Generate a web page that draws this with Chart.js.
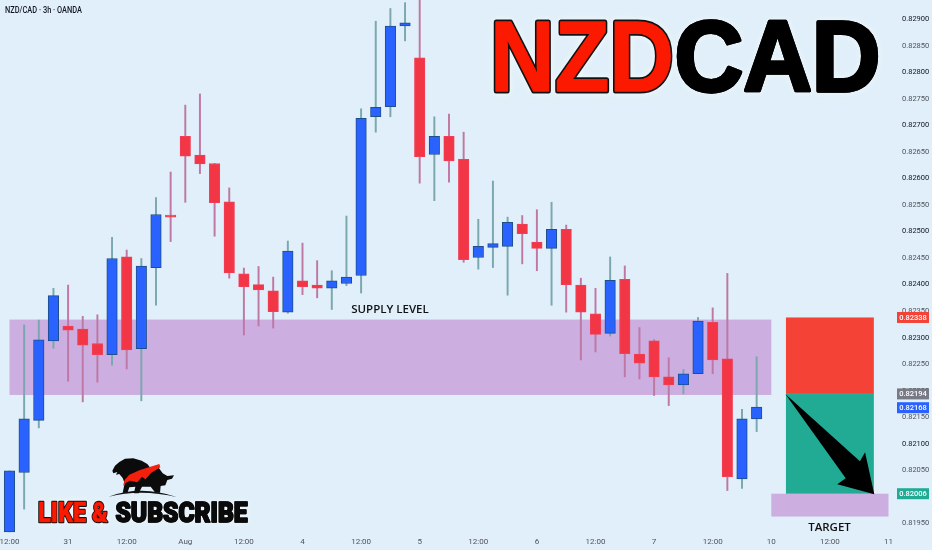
<!doctype html>
<html lang="en">
<head>
    <meta charset="utf-8">
    <title>NZDCAD</title>
    <script src="https://cdn.jsdelivr.net/npm/chart.js@4"></script>
    <style>
        html, body { margin: 0; padding: 0; background: #e0eff9; }
        #chart { display: block; }
    </style>
</head>
<body>
<canvas id="chart" width="932" height="550"></canvas>

<script>
    // candles, one entry per 3h bar
    const opens = [0.81934,0.82046,0.82144,0.82294,0.82322,0.82316,0.82289,0.82268,0.82452,0.82279,0.82432,0.82531,0.82679,0.82644,0.82628,0.82556,0.82420,0.82400,0.82388,0.82348,0.82407,0.82399,0.82393,0.82402,0.82417,0.82716,0.82735,0.82887,0.82827,0.82645,0.82679,0.82636,0.82451,0.82470,0.82472,0.82514,0.82480,0.82468,0.82504,0.82399,0.82345,0.82308,0.82410,0.82269,0.82294,0.82226,0.82211,0.82232,0.82329,0.82260,0.82034,0.82147];
    const highs = [0.82049,0.82324,0.82333,0.82393,0.82399,0.82340,0.82343,0.82489,0.82465,0.82449,0.82564,0.82612,0.82738,0.82759,0.82628,0.82582,0.82431,0.82434,0.82414,0.82482,0.82478,0.82445,0.82426,0.82529,0.82731,0.82896,0.82920,0.82931,0.82945,0.82716,0.82721,0.82687,0.82523,0.82595,0.82527,0.82530,0.82541,0.82555,0.82512,0.82412,0.82393,0.82452,0.82435,0.82319,0.82296,0.82262,0.82240,0.82338,0.82356,0.82421,0.82165,0.82264];
    const lows = [0.81934,0.81977,0.82130,0.82280,0.82218,0.82179,0.82216,0.82248,0.82241,0.82181,0.82361,0.82481,0.82555,0.82609,0.82491,0.82412,0.82305,0.82322,0.82318,0.82346,0.82381,0.82375,0.82353,0.82398,0.82384,0.82687,0.82716,0.82859,0.82591,0.82558,0.82593,0.82442,0.82429,0.82432,0.82380,0.82439,0.82426,0.82361,0.82348,0.82258,0.82273,0.82303,0.82226,0.82222,0.82191,0.82172,0.82194,0.82232,0.82232,0.82012,0.82016,0.82123];
    const closes = [0.82049,0.82147,0.82296,0.82379,0.82314,0.82286,0.82268,0.82449,0.82277,0.82435,0.82532,0.82527,0.82642,0.82627,0.82554,0.82422,0.82396,0.82390,0.82349,0.82463,0.82396,0.82393,0.82407,0.82414,0.82713,0.82734,0.82887,0.82893,0.82641,0.82679,0.82633,0.82447,0.82472,0.82477,0.82517,0.82496,0.82468,0.82504,0.82400,0.82348,0.82306,0.82408,0.82270,0.82252,0.82226,0.82211,0.82232,0.82331,0.82258,0.82038,0.82147,0.82169];

    const timeLabels = ['12:00','31','12:00','Aug','12:00','4','12:00','5','12:00','6','12:00','7','12:00','10','12:00','11'];
    const priceTicks = [0.8290,0.8285,0.8280,0.8275,0.8270,0.8265,0.8260,0.8255,0.8250,0.8245,0.8240,0.8235,0.8230,0.8225,0.8220,0.8215,0.8210,0.8205,0.8200,0.8195];

    // zones, in bars and prices
    const supplyBars = [0, 52];
    const supplyPrices = [0.82334, 0.82192];
    const tradeBars = [53, 59];
    const tradePrices = [0.82338, 0.82194, 0.82006];
    const targetBars = [52, 60];
    const targetPrices = [0.82006, 0.81963];
    const arrowBars = [52.96, 58.05, 58.4, 59.03, 56.5, 57.08];
    const arrowPrices = [0.82194, 0.82067, 0.82084, 0.82005, 0.82024, 0.82035];

    const tagPrices = [0.82338, 0.82194, 0.82168, 0.82006];
    const tagColors = ['#f44336', '#787b86', '#2962ff', '#22ab94'];

    const BLUE = '#2962ff', RED = '#f23645';
    const isUp = opens.map((o, i) => closes[i] >= o);

    function poly(ctx, pts) {
        ctx.beginPath();
        pts.forEach((p, i) => i ? ctx.lineTo(p[0], p[1]) : ctx.moveTo(p[0], p[1]));
        ctx.closePath();
        ctx.fill();
    }

    // black outline first, then a fill stroke to fatten the glyphs a bit
    function outlined(ctx, text, x, y, w, font, fill, stroke, lw, fat) {
        ctx.font = font;
        ctx.lineJoin = 'round';
        ctx.textAlign = 'left';
        ctx.textBaseline = 'alphabetic';
        ctx.shadowColor = 'rgba(255,255,255,0.8)';
        ctx.shadowBlur = 7;
        ctx.strokeStyle = stroke;
        ctx.lineWidth = lw;
        ctx.strokeText(text, x, y, w);
        ctx.shadowBlur = 0;
        ctx.strokeStyle = fill;
        ctx.lineWidth = fat;
        ctx.strokeText(text, x, y, w);
        ctx.fillStyle = fill;
        ctx.fillText(text, x, y, w);
    }

    // bull and bear mark, coordinates are 3x pixels from the logo corner
    function drawLogo(ctx) {
        ctx.save();
        ctx.translate(30, 450);
        ctx.scale(1 / 3, 1 / 3);
        ctx.fillStyle = '#0b0b0b';
        poly(ctx, [[247,62],[255,47],[268,36],[285,26],[310,25],[335,32],[352,42],[362,55],[385,52],[398,70],[412,78],[432,76],[426,86],[412,90],[406,106],[392,108],[390,128],[376,128],[362,110],[336,110],[326,130],[312,130],[316,110],[298,112],[292,130],[278,128],[284,100],[278,84],[268,72],[258,74],[262,66],[250,70]]);
        ctx.fillStyle = '#f4200c';
        poly(ctx, [[279,108],[284,90],[298,74],[330,60],[388,42],[391,52],[364,68],[346,88],[336,80],[322,97],[300,92],[288,98]]);
        ctx.fillStyle = '#111';
        ctx.beginPath();
        ctx.moveTo(236, 140);
        ctx.quadraticCurveTo(335, 104, 442, 142);
        ctx.quadraticCurveTo(335, 116, 236, 140);
        ctx.fill();
        ctx.restore();
    }

    const scenery = {
        id: 'scenery',
        beforeDatasetsDraw(chart) {
            const { ctx, scales: { x, y } } = chart;
            const box = (bars, a, b, color) => {
                ctx.fillStyle = color;
                ctx.fillRect(x.getPixelForValue(bars[0]), y.getPixelForValue(a),
                    x.getPixelForValue(bars[1]) - x.getPixelForValue(bars[0]),
                    y.getPixelForValue(b) - y.getPixelForValue(a));
            };
            box(supplyBars, supplyPrices[0], supplyPrices[1], '#ccaee0');
            box(targetBars, targetPrices[0], targetPrices[1], '#ccaee0');
            box(tradeBars, tradePrices[0], tradePrices[1], '#f44336');
            box(tradeBars, tradePrices[1], tradePrices[2], '#22ab94');
        },
        afterDraw(chart) {
            const { ctx, scales: { x, y } } = chart;
            ctx.save();

            ctx.fillStyle = '#000';
            poly(ctx, arrowBars.map((b, i) => [x.getPixelForValue(b), y.getPixelForValue(arrowPrices[i])]));

            // last price tags on the axis
            ctx.font = '500 7.5px Roboto';
            ctx.textAlign = 'center';
            ctx.textBaseline = 'middle';
            tagPrices.forEach((p, i) => {
                const py = y.getPixelForValue(p);
                ctx.fillStyle = tagColors[i];
                ctx.fillRect(897, py - 5.5, 32, 11);
                ctx.fillStyle = '#fff';
                ctx.fillText(p.toFixed(5), 913, py + 0.5);
            });

            ctx.fillStyle = '#131722';
            ctx.textAlign = 'left';
            ctx.font = '500 9px Roboto';
            ctx.fillText('NZD/CAD · 3h · OANDA', 5, 10.5, 77);

            ctx.font = '600 11.5px "Open Sans"';
            ctx.textAlign = 'center';
            ctx.fillStyle = '#111';
            ctx.fillText('SUPPLY LEVEL', 390, 310);
            ctx.fillText('TARGET', 829.5, 528);

            outlined(ctx, 'NZD', 490, 90.5, 184, 'bold 100px "Liberation Sans"', '#fb1a00', '#111', 5, 1.5);
            outlined(ctx, 'CAD', 674.5, 90.5, 206, 'bold 100px "Liberation Sans"', '#000', '#000', 3.5, 3.5);

            outlined(ctx, 'LIKE &', 38, 522, 70, '900 28px Roboto', '#fb1a00', '#111', 2.5, 0.5);
            outlined(ctx, 'SUBSCRIBE', 115.5, 522, 132, '900 28px Roboto', '#0a0a0a', '#0a0a0a', 1.5, 1.5);

            drawLogo(ctx);
            ctx.restore();
        }
    };

    const noPadding = (s) => { s.paddingLeft = s.paddingRight = s.paddingTop = s.paddingBottom = 0; };

    new Chart(document.getElementById('chart'), {
        type: 'bar',
        data: {
            datasets: [
                {
                    order: 1,
                    data: opens.map((o, i) => ({ x: i, y: [o, closes[i]] })),
                    barThickness: 10.5,
                    borderSkipped: false,
                    borderWidth: 1,
                    backgroundColor: isUp.map(u => u ? BLUE : RED),
                    borderColor: isUp.map(u => u ? '#1d4f8c' : '#f04058')
                },
                {
                    order: 2,
                    data: lows.map((l, i) => ({ x: i, y: [l, highs[i]] })),
                    barThickness: 1.3,
                    borderWidth: 0,
                    backgroundColor: isUp.map(u => u ? '#7aa8ae' : '#bf78a4')
                }
            ]
        },
        options: {
            responsive: false,
            animation: false,
            grouped: false,
            layout: { padding: 0 },
            plugins: { legend: { display: false }, title: { display: false }, tooltip: { enabled: false } },
            scales: {
                x: {
                    type: 'linear',
                    offset: false,
                    min: -0.648,
                    max: 60.785,
                    grid: { display: false, drawTicks: false },
                    border: { display: false },
                    afterBuildTicks(s) { s.ticks = timeLabels.map((_, i) => ({ value: i * 4 })); },
                    afterFit(s) { s.height = 17; noPadding(s); },
                    ticks: {
                        autoSkip: false,
                        maxRotation: 0,
                        padding: 4,
                        font: { family: 'Roboto', size: 8 },
                        color: '#50535e',
                        callback: (v) => timeLabels[v / 4]
                    }
                },
                y: {
                    position: 'right',
                    min: 0.81932,
                    max: 0.82936,
                    grid: { display: false, drawTicks: false },
                    border: { display: false },
                    afterBuildTicks(s) { s.ticks = priceTicks.map(v => ({ value: v })); },
                    afterFit(s) { s.width = 32; noPadding(s); },
                    ticks: {
                        autoSkip: false,
                        padding: 2,
                        font: { family: 'Roboto', size: 7.5 },
                        color: (c) => Math.round(c.tick.value * 20000) % 20 === 0 ? '#131722' : '#50535e',
                        callback: (v) => v.toFixed(5)
                    }
                }
            }
        },
        plugins: [scenery]
    });
</script>
</body>
</html>
